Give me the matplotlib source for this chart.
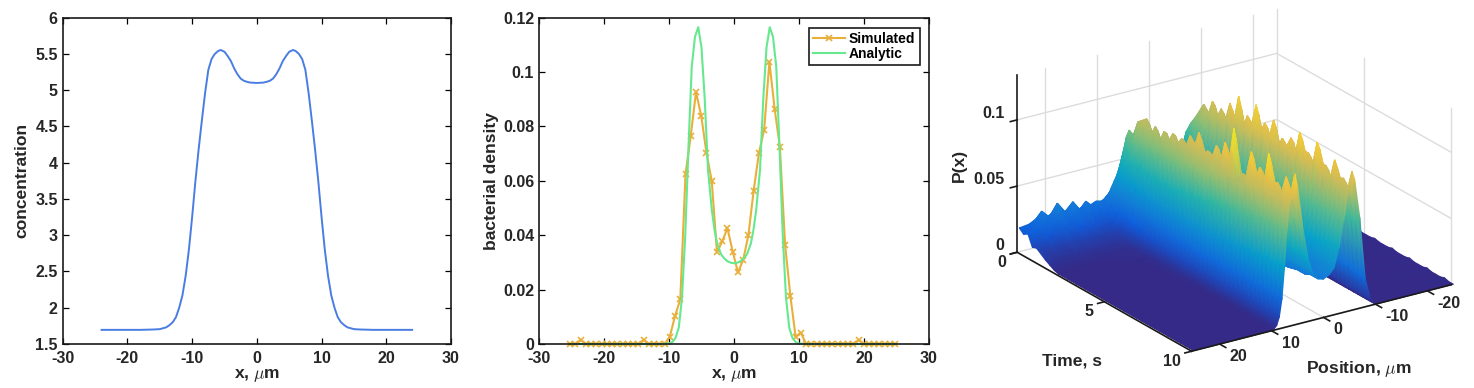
import numpy as np
import matplotlib
matplotlib.use('Agg')
import matplotlib.pyplot as plt
from matplotlib.colors import LinearSegmentedColormap
from mpl_toolkits.mplot3d import proj3d

plt.rcParams['font.family'] = ['Liberation Sans', 'DejaVu Sans']
plt.rcParams['font.weight'] = 'bold'
plt.rcParams['mathtext.fontset'] = 'cm'
plt.rcParams['axes.unicode_minus'] = False

W, H = 1474, 388
TEXT = '#262626'
FS = 11.5
LFS = 12.6

# left panel, right half of the symmetric curve
conc_x = [0, 1, 1.5, 2, 2.5, 3, 3.5, 4, 4.5, 5, 5.6, 6, 6.5, 7, 7.5, 8, 8.5, 9, 9.5, 10,
          10.5, 11, 11.5, 12, 12.5, 13, 13.5, 14, 15, 16, 18, 24]
conc_y = [5.10, 5.105, 5.115, 5.13, 5.16, 5.22, 5.3, 5.40, 5.47, 5.53, 5.555, 5.54, 5.5, 5.43, 5.28,
          4.96, 4.58, 4.18, 3.74, 3.25, 2.8, 2.44, 2.17, 2.0, 1.87, 1.8, 1.76, 1.73, 1.705, 1.70, 1.695, 1.695]

# middle panel
sim_y = [0, 0, .0015, 0, 0, 0, 0, 0, 0, 0, 0, 0, 0, 0, .0015, 0, 0, 0, 0,
         .0027, .0103, .0164, .0625, .0766, .0926, .0839, .0702, .06, .0337, .0377, .0426, .034, .0263,
         .0309, .0401, .0564, .0702, .0788, .1037, .0865, .0724, .0364, .0177, .0027, .0042,
         0, 0, 0, 0, 0, 0, 0, 0, 0, 0, .0015, 0, 0, 0, 0, 0, 0, 0]
ana_x = [0, .5, 1, 1.5, 2, 2.6, 3, 3.4, 4, 4.5, 5, 5.5, 6, 6.5, 7, 7.5, 8, 8.5, 9, 9.5, 10, 11, 25]
ana_y = [.0297, .0299, .0304, .0315, .033, .037, .042, .049, .064, .09, .109, .1165, .113, .102, .0725,
         .04, .017, .006, .0022, .0007, .0002, 0, 0]

# right panel, P(x) in units of 0.001, one row per time
surf_pos = [-25, -18, -12, -10, -9, -8, -7, -6, -5.5, -5, -4, -3, -2, -1, 0, 1, 2, 3, 4, 5, 5.5, 6, 6.5, 7, 7.5,
            8, 8.5, 9, 9.5, 10, 11, 12, 13, 14, 15.5, 17, 18.5, 20, 21.5, 23, 25]
surf_time = [0, .25, .5, .75, 1, 1.5, 1.75, 2, 2.25, 2.5, 2.75, 3, 3.25, 3.5, 3.75, 4, 4.25, 4.5, 4.75, 5, 5.25,
             5.5, 5.75, 6, 6.25, 6.5, 6.75, 7, 7.25, 7.5, 7.75, 8, 8.25, 8.5, 8.75, 9, 9.25, 9.5, 9.75, 10]
surf_milli = [
    [20, 21, 19, 20, 21, 20, 22, 25, 24, 22, 21, 20, 19, 21, 20, 19, 22, 20, 21, 23, 24, 23, 21, 20, 22, 21, 19, 20, 21, 20, 22, 19, 21, 20, 23, 19, 21, 20, 22, 19, 18],
    [18, 19, 18, 20, 24, 28, 36, 48, 50, 44, 32, 26, 22, 24, 22, 24, 26, 30, 38, 52, 58, 55, 48, 42, 38, 34, 30, 28, 26, 25, 26, 24, 28, 22, 30, 24, 32, 23, 29, 21, 15],
    [12, 13, 14, 16, 22, 32, 48, 62, 64, 56, 38, 26, 22, 21, 20, 22, 27, 38, 54, 72, 76, 72, 62, 52, 42, 34, 28, 24, 20, 18, 22, 16, 24, 20, 26, 19, 28, 18, 24, 17, 17],
    [8, 9, 9, 12, 20, 36, 56, 70, 72, 62, 42, 28, 20, 18, 17, 19, 26, 42, 62, 72, 74, 70, 62, 52, 42, 32, 24, 18, 14, 12, 12, 11, 14, 12, 16, 12, 18, 11, 15, 11, 9],
    [5, 5, 6, 9, 18, 38, 62, 76, 78, 68, 46, 28, 20, 16, 15, 17, 26, 44, 66, 82, 86, 80, 70, 56, 42, 30, 20, 14, 10, 8, 7, 7, 8, 7, 9, 7, 9, 6, 8, 6, 10],
    [2, 2, 3, 6, 16, 40, 68, 88, 92, 78, 52, 30, 20, 14, 13, 15, 24, 46, 70, 88, 92, 86, 74, 58, 42, 28, 17, 10, 6, 4, 3, 3, 3, 3, 3, 3, 3, 3, 3, 3, 5],
    [1, 1, 2, 5, 15, 40, 66, 84, 86, 76, 52, 30, 20, 14, 12, 14, 24, 44, 66, 80, 82, 80, 70, 56, 41, 27, 16, 9, 5, 3, 2, 2, 2, 2, 2, 2, 2, 2, 2, 2, 3],
    [1, 1, 2, 4, 14, 42, 72, 94, 98, 84, 54, 30, 20, 14, 12, 14, 24, 46, 70, 86, 90, 86, 74, 56, 40, 26, 15, 8, 4, 2, 2, 1, 1, 1, 1, 1, 1, 1, 1, 1, 1],
    [0, 0, 1, 3, 13, 40, 70, 84, 88, 80, 54, 30, 20, 14, 12, 14, 24, 44, 62, 78, 80, 78, 68, 54, 38, 24, 13, 7, 3, 2, 1, 1, 1, 1, 0, 0, 0, 0, 0, 0, 0],
    [0, 0, 1, 3, 13, 42, 76, 92, 96, 88, 56, 30, 19, 13, 12, 14, 23, 44, 70, 88, 90, 86, 74, 56, 38, 24, 13, 6, 3, 2, 1, 1, 1, 0, 0, 0, 0, 0, 0, 0, 0],
    [0, 0, 1, 3, 12, 40, 72, 86, 90, 82, 56, 30, 20, 14, 12, 14, 24, 46, 68, 82, 84, 82, 72, 54, 37, 23, 12, 5, 3, 1, 0, 0, 0, 0, 0, 0, 0, 0, 0, 0, 0],
    [1, 0, 1, 3, 12, 42, 78, 98, 104, 90, 58, 32, 20, 14, 12, 15, 24, 48, 72, 90, 92, 88, 76, 56, 38, 23, 12, 5, 3, 1, 1, 0, 0, 0, 0, 0, 0, 0, 0, 0, 0],
    [0, 0, 1, 2, 11, 40, 74, 90, 94, 84, 56, 30, 20, 14, 13, 14, 24, 46, 70, 84, 86, 84, 74, 54, 36, 22, 11, 5, 2, 1, 0, 0, 0, 0, 0, 0, 0, 0, 0, 0, 0],
    [1, 0, 1, 2, 11, 40, 78, 104, 113, 92, 58, 30, 19, 14, 13, 14, 24, 48, 74, 90, 92, 88, 74, 54, 36, 22, 11, 5, 2, 1, 0, 0, 0, 0, 0, 0, 0, 0, 0, 0, 0],
    [0, 0, 0, 2, 10, 38, 72, 88, 92, 84, 58, 32, 20, 15, 13, 15, 25, 48, 72, 86, 88, 86, 76, 56, 37, 22, 11, 4, 2, 1, 0, 0, 0, 0, 0, 0, 0, 0, 0, 0, 0],
    [0, 0, 0, 2, 10, 38, 76, 98, 102, 90, 60, 34, 22, 15, 13, 16, 26, 50, 76, 94, 98, 92, 78, 58, 38, 22, 11, 4, 2, 1, 0, 0, 0, 0, 0, 0, 0, 0, 0, 0, 0],
    [0, 0, 0, 1, 9, 36, 74, 94, 98, 86, 58, 32, 22, 15, 14, 16, 26, 48, 72, 90, 92, 88, 76, 56, 37, 21, 10, 4, 2, 1, 0, 0, 0, 0, 0, 0, 0, 0, 0, 0, 0],
    [1, 0, 0, 1, 9, 38, 80, 106, 114, 94, 60, 34, 22, 16, 15, 17, 27, 50, 78, 98, 104, 96, 80, 60, 38, 22, 10, 4, 2, 1, 0, 0, 0, 0, 0, 0, 0, 0, 0, 0, 0],
    [0, 0, 0, 1, 8, 34, 72, 92, 96, 88, 60, 34, 22, 16, 15, 17, 26, 48, 72, 88, 90, 88, 78, 58, 37, 21, 10, 4, 1, 1, 0, 0, 0, 0, 0, 0, 0, 0, 0, 0, 0],
    [0, 0, 0, 1, 8, 36, 76, 100, 104, 96, 62, 36, 24, 17, 15, 18, 28, 50, 76, 92, 94, 90, 78, 60, 38, 21, 10, 4, 1, 1, 0, 0, 0, 0, 0, 0, 0, 0, 0, 0, 0],
    [0, 0, 0, 1, 8, 32, 72, 92, 96, 88, 62, 36, 24, 17, 15, 18, 28, 50, 74, 90, 90, 88, 78, 58, 37, 21, 9, 3, 1, 0, 0, 0, 0, 0, 0, 0, 0, 0, 0, 0, 0],
    [1, 0, 0, 1, 8, 34, 78, 104, 110, 94, 64, 38, 24, 18, 16, 19, 30, 52, 78, 98, 102, 96, 82, 62, 38, 21, 9, 3, 1, 0, 0, 0, 0, 0, 0, 0, 0, 0, 0, 0, 0],
    [0, 0, 0, 1, 7, 32, 70, 90, 92, 86, 62, 38, 26, 19, 17, 19, 29, 50, 74, 88, 90, 88, 80, 62, 38, 21, 9, 3, 1, 0, 0, 0, 0, 0, 0, 0, 0, 0, 0, 0, 0],
    [0, 0, 0, 1, 7, 32, 74, 96, 100, 94, 66, 40, 26, 19, 17, 20, 30, 52, 80, 102, 108, 100, 84, 64, 40, 22, 9, 3, 1, 0, 0, 0, 0, 0, 0, 0, 0, 0, 0, 0, 0],
    [0, 0, 0, 1, 7, 30, 70, 92, 96, 88, 64, 40, 26, 20, 18, 20, 30, 50, 76, 92, 94, 92, 82, 62, 38, 21, 9, 3, 1, 0, 0, 0, 0, 0, 0, 0, 0, 0, 0, 0, 0],
    [1, 0, 0, 0, 7, 30, 74, 100, 104, 92, 66, 42, 28, 20, 18, 21, 32, 54, 84, 112, 122, 106, 88, 66, 40, 21, 9, 3, 1, 0, 0, 0, 0, 0, 0, 0, 0, 0, 0, 0, 0],
    [0, 0, 0, 0, 6, 28, 70, 90, 94, 88, 66, 42, 28, 21, 19, 22, 32, 52, 74, 82, 84, 84, 80, 64, 40, 21, 9, 3, 1, 0, 0, 0, 0, 0, 0, 0, 0, 0, 0, 0, 0],
    [0, 0, 0, 0, 6, 28, 76, 106, 112, 98, 68, 42, 28, 22, 20, 22, 32, 52, 78, 90, 92, 90, 84, 68, 42, 22, 9, 3, 1, 0, 0, 0, 0, 0, 0, 0, 0, 0, 0, 0, 0],
    [0, 0, 0, 0, 6, 28, 68, 94, 100, 90, 66, 42, 30, 23, 21, 23, 32, 52, 76, 84, 86, 86, 82, 66, 40, 22, 9, 3, 1, 0, 0, 0, 0, 0, 0, 0, 0, 0, 0, 0, 0],
    [1, 0, 0, 0, 6, 28, 72, 96, 100, 94, 70, 44, 30, 24, 22, 24, 34, 54, 82, 106, 112, 104, 90, 70, 42, 22, 9, 3, 1, 0, 0, 0, 0, 0, 0, 0, 0, 0, 0, 0, 0],
    [0, 0, 0, 0, 6, 26, 68, 90, 94, 88, 68, 44, 30, 24, 22, 24, 34, 52, 76, 90, 94, 92, 84, 66, 42, 22, 9, 3, 1, 0, 0, 0, 0, 0, 0, 0, 0, 0, 0, 0, 0],
    [0, 0, 0, 0, 6, 26, 74, 106, 112, 100, 70, 46, 32, 26, 24, 26, 36, 54, 80, 100, 104, 100, 88, 70, 44, 22, 9, 3, 1, 0, 0, 0, 0, 0, 0, 0, 0, 0, 0, 0, 0],
    [0, 0, 0, 0, 5, 26, 68, 94, 98, 90, 68, 46, 32, 26, 24, 26, 34, 52, 74, 88, 92, 90, 84, 68, 42, 22, 9, 3, 1, 0, 0, 0, 0, 0, 0, 0, 0, 0, 0, 0, 0],
    [1, 0, 0, 0, 5, 24, 70, 94, 98, 92, 70, 46, 32, 27, 25, 27, 36, 52, 82, 110, 118, 106, 92, 72, 44, 22, 9, 3, 1, 0, 0, 0, 0, 0, 0, 0, 0, 0, 0, 0, 0],
    [0, 0, 0, 0, 5, 24, 64, 86, 90, 86, 68, 46, 32, 28, 26, 28, 36, 50, 74, 94, 98, 94, 86, 70, 44, 22, 9, 3, 1, 0, 0, 0, 0, 0, 0, 0, 0, 0, 0, 0, 0],
    [0, 0, 0, 0, 5, 24, 70, 100, 106, 96, 72, 48, 34, 29, 27, 28, 36, 50, 74, 96, 100, 98, 90, 72, 46, 22, 9, 3, 1, 0, 0, 0, 0, 0, 0, 0, 0, 0, 0, 0, 0],
    [0, 0, 0, 0, 5, 22, 64, 90, 94, 88, 70, 48, 34, 30, 27, 28, 36, 48, 70, 88, 92, 90, 84, 70, 44, 22, 9, 3, 1, 0, 0, 0, 0, 0, 0, 0, 0, 0, 0, 0, 0],
    [1, 0, 0, 0, 5, 22, 66, 92, 96, 90, 72, 50, 36, 31, 28, 30, 36, 50, 76, 102, 108, 102, 92, 74, 46, 22, 9, 3, 1, 0, 0, 0, 0, 0, 0, 0, 0, 0, 0, 0, 0],
    [0, 0, 0, 0, 5, 22, 64, 86, 90, 86, 70, 50, 35, 31, 28, 30, 36, 48, 72, 92, 96, 94, 88, 72, 46, 22, 9, 3, 1, 0, 0, 0, 0, 0, 0, 0, 0, 0, 0, 0, 0],
    [0, 0, 0, 0, 5, 22, 68, 98, 105, 95, 72, 50, 35, 31, 29, 30, 35, 48, 72, 104, 114, 104, 92, 74, 46, 22, 9, 3, 1, 0, 0, 0, 0, 0, 0, 0, 0, 0, 0, 0, 0],
]

parula = LinearSegmentedColormap.from_list('parula', ['#352a87', '#0f5cdd', '#1481d6', '#06a4ca', '#2eb7a4',
                                                      '#87bf77', '#d1bb59', '#fec832', '#f9fb0e'])

fig = plt.figure(figsize=(W / 100, H / 100), dpi=100)


def style_2d(ax, yticks, ylabels):
    ax.set_xlim(-30, 30)
    ax.set_xticks(np.arange(-30, 31, 10))
    ax.set_yticks(yticks)
    ax.set_yticklabels(ylabels)
    ax.tick_params(direction='in', top=True, right=True, length=4, width=0.9, labelsize=FS, labelcolor=TEXT)
    ax.tick_params(axis='x', pad=5)
    ax.tick_params(axis='y', pad=3.5)
    for s in ax.spines.values():
        s.set_linewidth(1.2)
        s.set_color('#1a1a1a')
    ax.set_xlabel(r'x, $\mu$m', fontsize=LFS, fontweight='bold', color=TEXT, va='center')
    ax.xaxis.set_label_coords(.5, -.098)


# concentration
ax1 = fig.add_axes([62.7 / W, 44 / H, 388.3 / W, 326.3 / H])
cx = np.array(conc_x)
cy = np.array(conc_y)
ax1.plot(np.r_[-cx[:0:-1], cx], np.r_[cy[:0:-1], cy], color='#4a7de2', lw=1.4)
ax1.set_ylim(1.5, 6)
style_2d(ax1, np.arange(1.5, 6.1, .5), ['1.5', '2', '2.5', '3', '3.5', '4', '4.5', '5', '5.5', '6'])
ax1.set_ylabel('concentration', fontsize=LFS, fontweight='bold', color=TEXT, va='center')
ax1.yaxis.set_label_coords(-.1056, .5)

# bacterial density
ax2 = fig.add_axes([539 / W, 44 / H, 390 / W, 326.3 / H])
ax2.plot(np.linspace(-25.2, 24.8, 63), sim_y, color='#e8b03a', lw=1.5, marker='x', ms=4, mew=1.2,
         label='Simulated', clip_on=False)
ax_x = np.array(ana_x)
ax_y = np.array(ana_y)
ax2.plot(np.r_[-ax_x[:0:-1], ax_x], np.r_[ax_y[:0:-1], ax_y], color='#66e88f', lw=1.5, label='Analytic',
         clip_on=False)
ax2.set_ylim(0, .12)
style_2d(ax2, np.arange(0, .121, .02), ['0', '0.02', '0.04', '0.06', '0.08', '0.1', '0.12'])
ax2.set_ylabel('bacterial density', fontsize=LFS, fontweight='bold', color=TEXT, va='center')
ax2.yaxis.set_label_coords(-.123, .5)
leg = ax2.legend(loc='upper right', bbox_to_anchor=(919.5 / W, (H - 27.5) / H), bbox_transform=fig.transFigure,
                 fancybox=False, framealpha=1, edgecolor='#1a1a1a', fontsize=10, borderpad=0.3, labelspacing=0.1,
                 handlelength=2.3, handletextpad=0.25, borderaxespad=0)
leg.get_frame().set_linewidth(1.2)
for t in leg.get_texts():
    t.set_color('k')

# 3D surface
S = 468.0
cx3, cy3 = 1234.2, H - 180.0
rect3 = [(cx3 - .5135 * S) / W, (cy3 - .5135 * S) / H, S / W, S / H]
xa, xb = -24.6, 25.4
ztop = .1337


def make_3d():
    ax = fig.add_axes(rect3, projection='3d', proj_type='ortho', computed_zorder=False)
    ax.patch.set_alpha(0)
    ax.set_xlim(xa, xb, view_margin=0)
    ax.set_ylim(0, 10, view_margin=0)
    ax.set_zlim(0, ztop, view_margin=0)
    ax.set_box_aspect((1, 1, .612))
    ax.view_init(elev=22.4, azim=56.1)
    ax.set_xticks([])
    ax.set_yticks([])
    ax.set_zticks([])
    ax.set_axis_off()
    return ax


# walls and floor grid sit behind the surface
ax_back = make_3d()
grid_kw = dict(color='#dcdcdc', lw=1)
for p in [-20, -10, 0, 10, 20]:
    ax_back.plot([p, p], [0, 0], [0, ztop], **grid_kw)
    ax_back.plot([p, p], [0, 10], [0, 0], **grid_kw)
for t in [0, 5, 10]:
    ax_back.plot([xa, xa], [t, t], [0, ztop], **grid_kw)
    ax_back.plot([xa, xb], [t, t], [0, 0], **grid_kw)
for z in [.05, .1]:
    ax_back.plot([xb, xa], [0, 0], [z, z], **grid_kw)
    ax_back.plot([xa, xa], [0, 10], [z, z], **grid_kw)

# gouraud mesh on the projected grid, rows run back to front
X, T = np.meshgrid(surf_pos, surf_time)
Z = np.array(surf_milli) * 1e-3
px, py, _ = proj3d.proj_transform(X.ravel(), T.ravel(), Z.ravel(), ax_back.get_proj())
ax_mesh = fig.add_axes(rect3)
ax_mesh.pcolormesh(np.reshape(px, X.shape), np.reshape(py, X.shape), Z, cmap=parula, vmin=0, vmax=.124,
                   shading='gouraud')
ax_mesh.set_xlim(ax_back.viewLim.intervalx)
ax_mesh.set_ylim(ax_back.viewLim.intervaly)
ax_mesh.set_xticks([])
ax_mesh.set_yticks([])
ax_mesh.axis('off')

# black axes on top
ax_top = make_3d()
axis_kw = dict(color='#1a1a1a', lw=1.2)


def label_3d(x, y, z, s, ha):
    # tick labels go on the figure at the projected spot of their 3D anchor
    u, v, _ = proj3d.proj_transform(x, y, z, ax_top.get_proj())
    dx, dy = ax_mesh.transData.transform((u, v))
    fig.text(dx / W, dy / H, s, ha=ha, va='center', fontsize=FS, color=TEXT)


ax_top.plot([xb, xb], [0, 0], [0, ztop], **axis_kw)
ax_top.plot([xb, xb], [0, 10], [0, 0], **axis_kw)
ax_top.plot([xb, xa], [10, 10], [0, 0], **axis_kw)
for z, lab in zip([0, .05, .1], ['0', '0.05', '0.1']):
    ax_top.plot([xb, xb + 1.3], [0, 0], [z, z], **axis_kw)
    label_3d(xb + 2.4, 0, z + .0073, lab, 'right')
for t, lab in zip([0, 5, 10], ['0', '5', '10']):
    ax_top.plot([xb, xb + 1.3], [t, t], [0, 0], **axis_kw)
    label_3d(xb + 2, t, -.0055, lab, 'right')
for p in [-20, -10, 0, 10, 20]:
    ax_top.plot([p, p], [10, 10.35], [0, 0], **axis_kw)
    label_3d(p - .3, 10.5, -.006, str(p), 'left')

fig.text((960 + 335 / 3) / W, 1 - (1082 / 3) / H, 'Time, s', ha='center', va='center', fontsize=LFS, color=TEXT)
fig.text((960 + 1197 / 3) / W, 1 - (1107 / 3) / H, r'Position, $\mu$m', ha='center', va='center', fontsize=LFS, color=TEXT)
fig.text(959 / W, 1 - 165 / H, 'P(x)', ha='center', va='center', rotation=90, fontsize=LFS, color=TEXT)

fig.savefig('out.png', dpi=100)
